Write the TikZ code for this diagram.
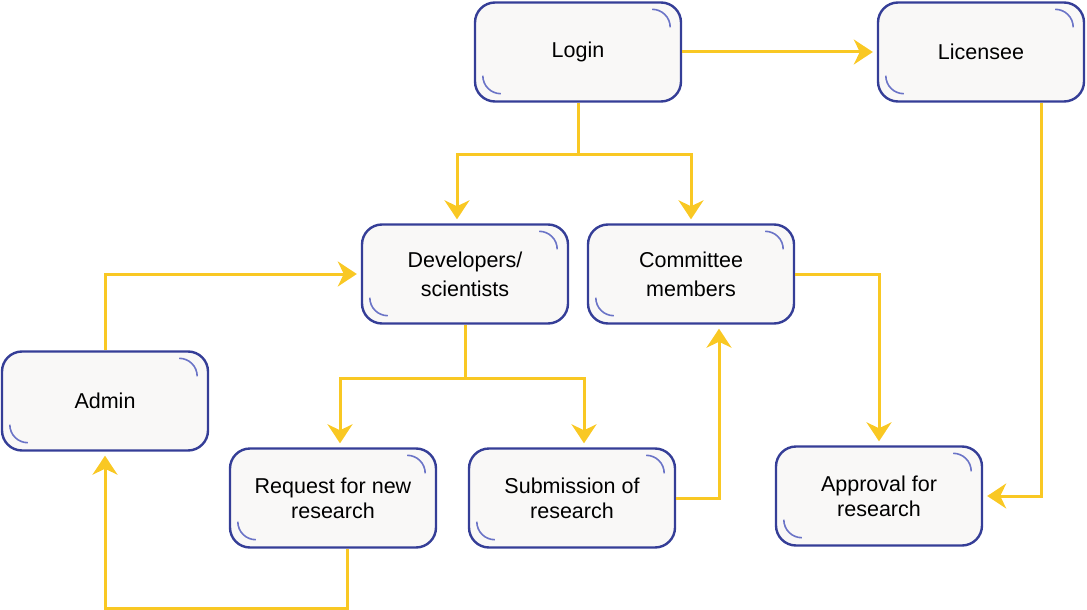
\documentclass[tikz,border=0pt]{standalone}
\usepackage{fontspec}
\setmainfont{Liberation Sans}
\usetikzlibrary{arrows.meta}
\definecolor{boxblue}{HTML}{353E97}
\definecolor{decoblue}{HTML}{6B74C7}
\definecolor{boxfill}{HTML}{F9F8F7}
\definecolor{flow}{HTML}{F9C823}
\tikzset{
  box/.style={draw=boxblue, line width=2.4pt, fill=boxfill, rounded corners=20pt,
    minimum width=206pt, minimum height=99pt, align=center, inner sep=0pt,
    font=\fontsize{21.5}{25}\selectfont},
  wide/.style={font=\fontsize{21.5}{29}\selectfont},
  deco/.style={draw=decoblue, line width=1.6pt},
  conn/.style={draw=flow, line width=3pt, -{Stealth[length=19pt,width=25pt,inset=6pt]}},
  plain/.style={draw=flow, line width=3pt}
}
\begin{document}
\begin{tikzpicture}[x=1pt,y=-1pt]
\useasboundingbox (0,0) rectangle (1087,610);
\node[box] (login) at (578,52) {Login};
\node[box] (lic) at (981,52) {Licensee};
\node[box,wide] (dev) at (465,274) {Developers/\\scientists};
\node[box,wide] (com) at (691,274) {Committee\\members};
\node[box] (admin) at (105,401) {Admin};
\node[box] (req) at (333,498) {Request for new\\research};
\node[box] (sub) at (572,498) {Submission of\\research};
\node[box] (app) at (879,496) {Approval for\\research};
\foreach \n in {login,lic,dev,com,admin,req,sub,app}{
  \draw[deco] ([xshift=-30pt,yshift=-8pt]\n.north east) arc[start angle=90,end angle=0,radius=18pt];
  \draw[deco] ([xshift=9pt,yshift=27pt]\n.south west) arc[start angle=180,end angle=270,radius=18pt];
}
% connectors
\draw[conn] (login.east) -- ([xshift=-4pt]lic.west);
\coordinate (lj) at (login.south |- 0,154);
\draw[plain] (login.south) -- (lj);
\draw[conn] (lj) -| ([yshift=4pt]dev.north -| 457,0);
\draw[conn] (lj) -| ([yshift=4pt]com.north);
\draw[conn] (lic.south -| 1041,0) |- ([xshift=4pt]app.east);
\coordinate (dj) at (dev.south |- 0,378);
\draw[plain] (dev.south) -- (dj);
\draw[conn] (dj) -| ([yshift=4pt]req.north -| 340,0);
\draw[conn] (dj) -| ([yshift=4pt]sub.north -| 584,0);
\draw[conn] (admin.north) |- ([xshift=-4pt]dev.west);
\draw[conn] (req.south -| 347,0) -- (347,608) -| ([yshift=-4pt]admin.south);
\draw[conn] (sub.east) -| ([yshift=-4pt]com.south -| 719,0);
\draw[conn] (com.east) -| ([yshift=4pt]app.north);
\end{tikzpicture}
\end{document}
